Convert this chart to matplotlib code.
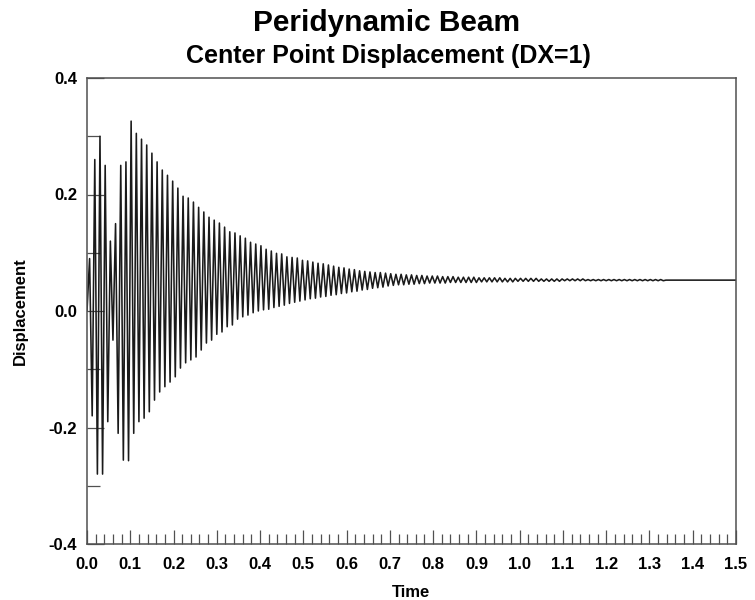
import matplotlib
matplotlib.use('Agg')
import matplotlib.pyplot as plt
import numpy as np
from matplotlib.ticker import MultipleLocator

plt.rcParams['font.family'] = ['Liberation Sans', 'DejaVu Sans']
plt.rcParams['font.weight'] = 'bold'

# Oscillation: one upper and one lower peak per cycle
PERIOD = 0.012          # seconds per cycle (~5.2 px in the reference)
FIRST_PEAK = 0.006      # time of first upper peak
START_VALUE = 0.0
FINAL_VALUE = 0.053     # resting level after the ringing dies out
END_TIME = 1.5

UPPER_PEAKS = [
    0.09, 0.26, 0.30, 0.25, 0.12, 0.15, 0.25, 0.256, 0.326, 0.305,
    0.295, 0.285, 0.271, 0.256, 0.242, 0.233, 0.223, 0.211, 0.197, 0.194,
    0.187, 0.178, 0.170, 0.161, 0.156, 0.151, 0.144, 0.136, 0.134, 0.129,
    0.125, 0.118, 0.115, 0.112, 0.106, 0.103, 0.099, 0.098, 0.093, 0.092,
    0.091, 0.087, 0.086, 0.084, 0.082, 0.081, 0.079, 0.077, 0.075, 0.074,
    0.072, 0.071, 0.069, 0.068, 0.067, 0.066, 0.066, 0.065, 0.064, 0.063,
    0.063, 0.062, 0.062, 0.061, 0.061, 0.060, 0.060, 0.060, 0.059, 0.059,
    0.059, 0.058, 0.058, 0.058, 0.058, 0.057, 0.057, 0.057, 0.057, 0.057,
    0.056, 0.056, 0.056, 0.056, 0.056, 0.056, 0.056, 0.055, 0.055, 0.055,
    0.055, 0.055, 0.055, 0.055, 0.055, 0.055, 0.054, 0.054, 0.054, 0.054,
    0.054, 0.054, 0.054, 0.054, 0.054, 0.054, 0.054, 0.054, 0.054, 0.054,
    0.054,
]
LOWER_PEAKS = [
    -0.18, -0.28, -0.28, -0.19, -0.05, -0.21, -0.256, -0.257, -0.21, -0.19,
    -0.184, -0.173, -0.153, -0.139, -0.130, -0.122, -0.113, -0.098, -0.089, -0.084,
    -0.079, -0.067, -0.055, -0.050, -0.040, -0.036, -0.027, -0.024, -0.014, -0.010,
    -0.007, -0.003, 0.000, 0.002, 0.003, 0.006, 0.008, 0.010, 0.013, 0.015,
    0.017, 0.019, 0.021, 0.022, 0.024, 0.025, 0.027, 0.028, 0.030, 0.031,
    0.033, 0.034, 0.036, 0.037, 0.039, 0.040, 0.041, 0.043, 0.044, 0.045,
    0.045, 0.046, 0.046, 0.047, 0.047, 0.048, 0.048, 0.048, 0.048, 0.049,
    0.049, 0.049, 0.049, 0.049, 0.049, 0.050, 0.050, 0.050, 0.050, 0.050,
    0.050, 0.050, 0.051, 0.051, 0.051, 0.051, 0.051, 0.051, 0.051, 0.051,
    0.051, 0.052, 0.052, 0.052, 0.052, 0.052, 0.052, 0.052, 0.052, 0.052,
    0.052, 0.052, 0.052, 0.052, 0.052, 0.052, 0.052, 0.052, 0.052, 0.052,
    0.052,
]

X_TICKS = [round(0.1 * i, 1) for i in range(16)]
Y_TICKS = [-0.4, -0.2, 0.0, 0.2, 0.4]

# build time/value sequence: alternate upper and lower peaks
times = [0.0]
values = [START_VALUE]
for k, (up, lo) in enumerate(zip(UPPER_PEAKS, LOWER_PEAKS)):
    t_up = FIRST_PEAK + k * PERIOD
    times += [t_up, t_up + PERIOD / 2]
    values += [up, lo]
times += [times[-1] + PERIOD / 2, END_TIME]
values += [FINAL_VALUE, FINAL_VALUE]

fig = plt.figure(figsize=(7.55, 6.0), dpi=100)
ax = fig.add_axes([87 / 755, 1 - 544 / 600, (736 - 87) / 755, (544 - 78) / 600])

ax.plot(times, values, color='#1a1a1a', linewidth=1.15)

ax.set_xlim(0, 1.5)
ax.set_ylim(-0.4, 0.4)
ax.set_xticks(X_TICKS)
ax.set_yticks(Y_TICKS)
ax.xaxis.set_minor_locator(MultipleLocator(0.02))
ax.yaxis.set_minor_locator(MultipleLocator(0.1))
ax.set_xticklabels([f'{v:.1f}' for v in X_TICKS])
ax.set_yticklabels([f'{v:.1f}' for v in Y_TICKS])

frame_col = '#505050'
for sp in ax.spines.values():
    sp.set_color(frame_col)
    sp.set_linewidth(1.1)

ax.tick_params(axis='x', which='major', direction='in', length=10, width=0.9,
               color=frame_col, pad=9.5, labelsize=12, top=False)
ax.tick_params(axis='x', which='minor', direction='in', length=7, width=0.9,
               color=frame_col, top=False)
ax.tick_params(axis='y', which='major', direction='in', length=12, width=0.9,
               color=frame_col, pad=7, labelsize=12, right=False)
ax.tick_params(axis='y', which='minor', direction='in', length=9, width=0.9,
               color=frame_col, right=False)

ax.set_xlabel('Time', fontsize=12, fontweight='bold', labelpad=9)
ax.set_ylabel('Displacement', fontsize=12, fontweight='bold', labelpad=15)

fig.text(387 / 755, 1 - 23 / 600, 'Peridynamic Beam', ha='center', va='center',
         fontsize=21.5, fontweight='bold')
fig.text(388 / 755, 1 - 56 / 600, 'Center Point Displacement (DX=1)', ha='center',
         va='center', fontsize=18, fontweight='bold')

fig.savefig('out.png', dpi=100)
